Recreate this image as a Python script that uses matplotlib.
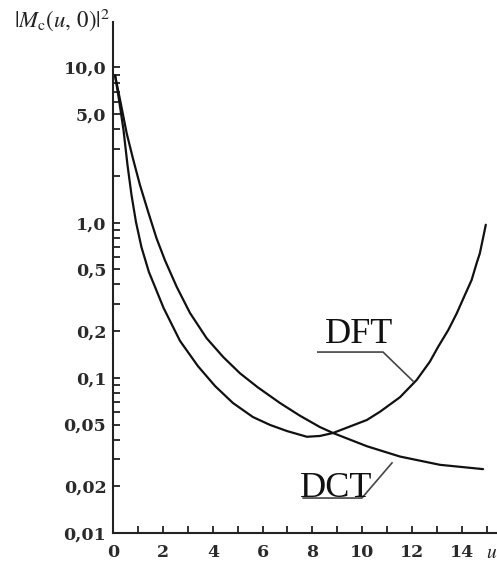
import matplotlib
matplotlib.use("Agg")
import matplotlib.pyplot as plt
from matplotlib.ticker import FixedLocator, NullFormatter

plt.rcParams['mathtext.fontset'] = 'stix'

# --- data ---
u_dft = [0.07, 0.23, 0.41, 0.57, 0.73, 0.91, 1.13, 1.43, 1.76, 2.02, 2.68, 3.40, 4.09,
         4.81, 5.61, 6.30, 6.98, 7.78, 8.30, 8.83, 10.19, 10.72, 11.52, 12.19, 12.72,
         13.06, 13.46, 13.80, 14.13, 14.40, 14.60, 14.73, 14.87, 14.97]
v_dft = [8.9, 6.17, 3.95, 2.35, 1.51, 1.01, 0.696, 0.481, 0.357, 0.282, 0.173, 0.119, 0.0885,
         0.0688, 0.0559, 0.0497, 0.0454, 0.0417, 0.0422, 0.0441, 0.0535, 0.0605, 0.075, 0.0968,
         0.127, 0.159, 0.203, 0.260, 0.342, 0.427, 0.547, 0.634, 0.811, 0.97]

u_dct = [0.07, 0.27, 0.54, 0.80, 1.07, 1.41, 1.74, 2.08, 2.55, 3.08, 3.75, 4.42, 5.09,
         5.8, 6.70, 7.5, 8.30, 8.83, 10.2, 11.52, 13.13, 14.86]
v_dct = [8.9, 6.2, 3.75, 2.55, 1.75, 1.16, 0.79, 0.57, 0.385, 0.262, 0.180, 0.136, 0.107,
         0.087, 0.0688, 0.057, 0.0482, 0.0441, 0.0362, 0.0311, 0.0275, 0.0258]

x_major = [0, 2, 4, 6, 8, 10, 12, 14]
x_minor = [1, 3, 5, 7, 9, 11, 13, 15]
y_labelled = [0.01, 0.02, 0.05, 0.1, 0.2, 0.5, 1.0, 5.0, 10.0]
y_labels = ["0,01", "0,02", "0,05", "0,1", "0,2", "0,5", "1,0", "5,0", "10,0"]

fig = plt.figure(figsize=(4.97, 5.62), dpi=100)
ax = fig.add_axes([0.228, 0.0516, 0.772, 0.909])

ax.plot(u_dft, v_dft, color='#111111', lw=1.6, solid_capstyle='round', solid_joinstyle='round')
ax.plot(u_dct, v_dct, color='#111111', lw=1.6, solid_capstyle='round', solid_joinstyle='round')

ax.set_yscale('log')
ax.set_xlim(0, 15.42)
ax.set_ylim(0.01, 19.6)

for s in ['top', 'right']:
    ax.spines[s].set_visible(False)
for s in ['left', 'bottom']:
    ax.spines[s].set_linewidth(1.5)
    ax.spines[s].set_color('#222222')

all_minor = [m * 10.0 ** e for e in (-2, -1, 0) for m in range(1, 10)] + [10.0]
ax.yaxis.set_major_locator(FixedLocator(y_labelled))
ax.set_yticklabels(y_labels)
ax.yaxis.set_minor_locator(FixedLocator(
    [t for t in all_minor if not any(abs(t - y) < 1e-9 for y in y_labelled)]))
ax.yaxis.set_minor_formatter(NullFormatter())

ax.set_xticks(x_major)
ax.set_xticks(x_minor, minor=True)

ax.tick_params(axis='both', which='both', direction='in', color='#222222', width=1.3, length=5)
ax.tick_params(axis='y', which='major', pad=5)
ax.tick_params(axis='x', which='major', pad=8)

for lab in ax.get_yticklabels() + ax.get_xticklabels():
    lab.set_fontfamily('DejaVu Serif')
    lab.set_fontsize(12.5)
    lab.set_fontweight('bold')
    lab.set_color('#2a2a2a')

# axis labels
fig.text(14 / 497, 1 - 20 / 562, r'$|M_{\mathrm{c}}(u,\,0)|^{2}$', fontsize=16.5,
         ha='left', va='center', color='#222222')
fig.text(486 / 497, 1 - 553 / 562, r'$u$', fontsize=14, ha='left', va='center', color='#222222')

# curve labels with leader lines
ax.text(8.5, 0.1675, 'DFT', fontsize=26, family='Liberation Serif', color='#111111',
        ha='left', va='baseline')
ax.plot([8.22, 10.84, 12.04], [0.1466, 0.1466, 0.0954], color='#444444', lw=1.2)

ax.text(7.5, 0.0171, 'DCT', fontsize=26, family='Liberation Serif', color='#111111',
        ha='left', va='baseline')
ax.plot([7.63, 9.99, 11.2], [0.0168, 0.0168, 0.0283], color='#444444', lw=1.2)

fig.savefig('out.png', dpi=100)
